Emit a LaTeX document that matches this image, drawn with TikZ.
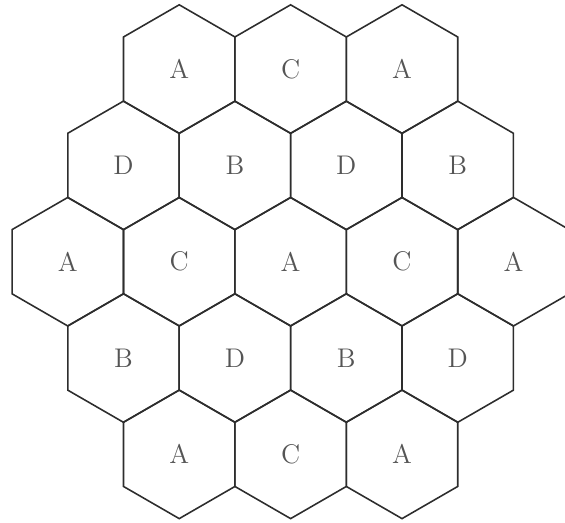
\documentclass[tikz,border=0pt]{standalone}
\usepackage{tikz}
\usetikzlibrary{shapes.geometric}
\definecolor{cellline}{RGB}{45,45,45}
\definecolor{celltext}{RGB}{85,85,85}
\tikzset{hexcell/.style={regular polygon,regular polygon sides=6,shape border rotate=30,
    minimum size=2.01cm,inner sep=0pt,outer sep=0pt,draw=cellline,line width=0.7pt,
    text=celltext,font=\fontsize{12}{14}\selectfont}}

\begin{document}
\begin{tikzpicture}
  \useasboundingbox (0,0) rectangle (8.83,-8.16);
  % five rows of cells, 3-4-5-4-3
  \foreach \lab [count=\c from 0] in {A,C,A} \node[hexcell](ra\c) at ({1.06+1.741+1.741*\c},-1.08) {\lab};
  \foreach \lab [count=\c from 0] in {D,B,D,B} \node[hexcell](rb\c) at ({1.06+0.870+1.741*\c},-2.585) {\lab};
  \foreach \lab [count=\c from 0] in {A,C,A,C,A} \node[hexcell](rc\c) at ({1.06+1.741*\c},-4.09) {\lab};
  \foreach \lab [count=\c from 0] in {B,D,B,D} \node[hexcell](rd\c) at ({1.06+0.870+1.741*\c},-5.595) {\lab};
  \foreach \lab [count=\c from 0] in {A,C,A} \node[hexcell](re\c) at ({1.06+1.741+1.741*\c},-7.10) {\lab};
\end{tikzpicture}
\end{document}
